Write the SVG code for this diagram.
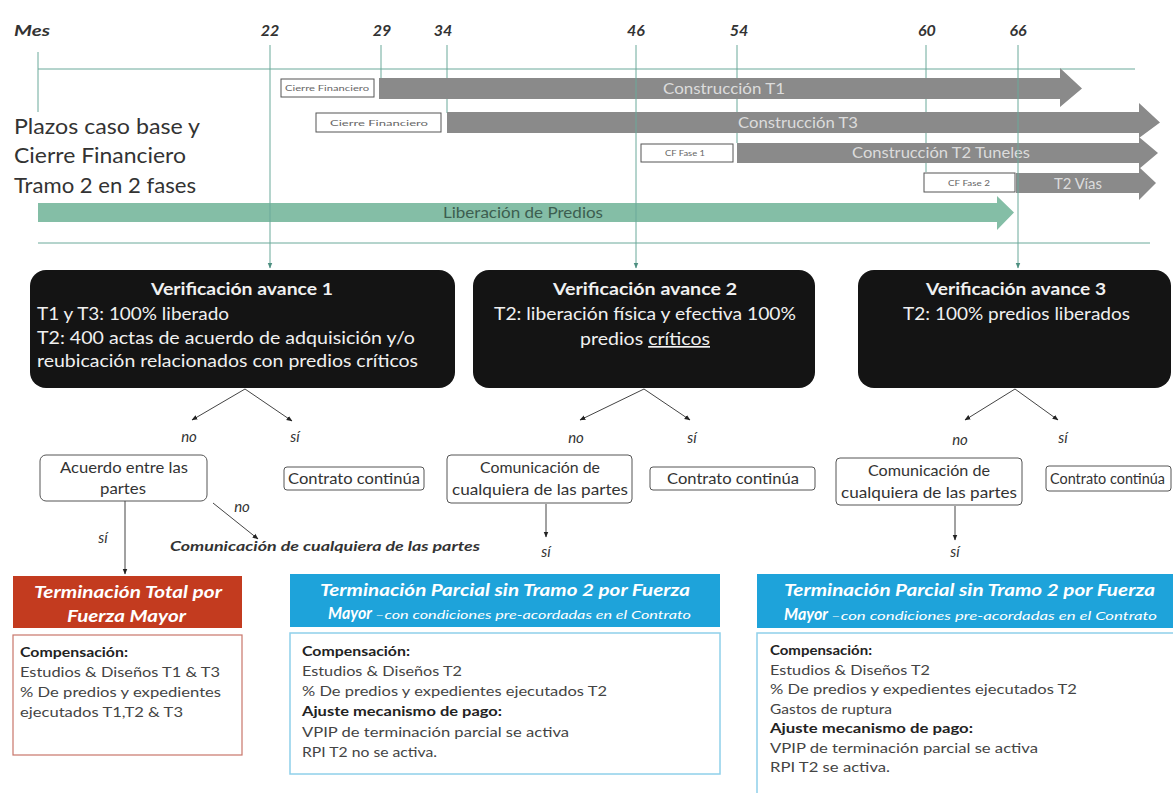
<svg xmlns="http://www.w3.org/2000/svg" width="1173" height="793" viewBox="0 0 1173 793">
<defs>
<style>
text{font-family:Lato,"Liberation Sans",sans-serif;}
.month{font-size:16px;font-weight:bold;font-style:italic;fill:#333;}
.tl{stroke:#6aa99a;stroke-width:1;fill:none;}
.bar{fill:#8a8a8a;}
.bartxt{font-size:15px;fill:#dcdcdc;}
.cf{fill:#fff;stroke:#555;stroke-width:1;}
.cftxt{font-size:8px;fill:#666;}
.plazo{font-size:21px;fill:#333;}
.verif{fill:#141414;}
.vt{font-size:17px;fill:#f0f0f0;}
.vb{font-weight:bold;}
.dec{fill:#fff;stroke:#555;stroke-width:1;}
.dt{font-size:16px;fill:#333;}
.lbl{font-size:15px;font-style:italic;fill:#333;text-anchor:middle;}
.conn{stroke:#444;stroke-width:1;fill:none;marker-end:url(#ah);}
.hd{font-size:17px;font-weight:bold;font-style:italic;fill:#fff;}
.sm{font-size:10.5px;font-weight:normal;}
.bt{font-size:14px;fill:#444;}
.bb{font-weight:bold;fill:#222;}
</style>
<marker id="ah" viewBox="0 0 10 10" refX="9" refY="5" markerWidth="6" markerHeight="6" orient="auto"><path d="M0,1 L10,5 L0,9 z" fill="#222"/></marker>
<marker id="ahg" viewBox="0 0 10 10" refX="9" refY="5" markerWidth="6" markerHeight="6" orient="auto"><path d="M0,1 L10,5 L0,9 z" fill="#4d8f80"/></marker>
</defs>
<rect width="1173" height="793" fill="#fff"/>

<!-- month axis -->
<g id="timeline">
<text x="14" y="36" class="month" textLength="36" lengthAdjust="spacingAndGlyphs">Mes</text>
<text x="270" y="36" class="month" text-anchor="middle">22</text>
<text x="382" y="36" class="month" text-anchor="middle">29</text>
<text x="443" y="36" class="month" text-anchor="middle">34</text>
<text x="636" y="36" class="month" text-anchor="middle">46</text>
<text x="739" y="36" class="month" text-anchor="middle">54</text>
<text x="927" y="36" class="month" text-anchor="middle">60</text>
<text x="1018" y="36" class="month" text-anchor="middle">66</text>
<line class="tl" x1="38" y1="69" x2="1135" y2="69"/>
<line class="tl" x1="38" y1="243" x2="1150" y2="243"/>
<line class="tl" x1="38" y1="52" x2="38" y2="112"/>
<line class="tl" x1="381" y1="45" x2="381" y2="78"/>
<line class="tl" x1="447" y1="45" x2="447" y2="113"/>
<line class="tl" x1="737" y1="45" x2="737" y2="143"/>
<line class="tl" x1="926" y1="45" x2="926" y2="172"/>
</g>

<!-- phase bars -->
<g id="bar-t1">
<polygon class="bar" points="379,78 1060,78 1060,68 1082,88.5 1060,107 1060,99 379,99"/>
<text x="663" y="94" class="bartxt" textLength="122" lengthAdjust="spacingAndGlyphs">Construcción T1</text>
</g>
<g id="bar-t3">
<polygon class="bar" points="447,112 1139,112 1139,103 1160,122.5 1139,138 1139,133 447,133"/>
<text x="738" y="128" class="bartxt" textLength="120" lengthAdjust="spacingAndGlyphs">Construcción T3</text>
</g>
<g id="bar-t2t">
<polygon class="bar" points="737,143 1139,143 1139,137 1158,153 1139,169 1139,163 737,163"/>
<text x="852" y="158" class="bartxt" textLength="178" lengthAdjust="spacingAndGlyphs">Construcción T2 Tuneles</text>
</g>
<g id="bar-t2v">
<polygon class="bar" points="1016,173 1139,173 1139,167 1156,183 1139,200 1139,193 1016,193"/>
<text x="1054" y="189" class="bartxt" textLength="48" lengthAdjust="spacingAndGlyphs">T2 Vías</text>
</g>
<g id="bar-predios">
<polygon fill="#84bea6" points="38,203 997,203 997,196 1014,212.5 997,230 997,222 38,222"/>
<text x="443" y="218" class="bartxt" style="fill:#3d5e50" textLength="160" lengthAdjust="spacingAndGlyphs">Liberación de Predios</text>
</g>
<g id="cf-1"><rect class="cf" x="281" y="79" width="93" height="18"/><text x="285" y="91" class="cftxt" textLength="84" lengthAdjust="spacingAndGlyphs">Cierre Financiero</text></g>
<g id="cf-2"><rect class="cf" x="316" y="113" width="125" height="19"/><text x="330" y="125.5" class="cftxt" textLength="98" lengthAdjust="spacingAndGlyphs">Cierre Financiero</text></g>
<g id="cf-f1"><rect class="cf" x="641" y="144" width="92" height="18"/><text x="665" y="156" class="cftxt" textLength="40" lengthAdjust="spacingAndGlyphs">CF Fase 1</text></g>
<g id="cf-f2"><rect class="cf" x="924" y="173" width="91" height="19"/><text x="948" y="185.5" class="cftxt" textLength="42" lengthAdjust="spacingAndGlyphs">CF Fase 2</text></g>

<g id="titulo">
<text class="plazo" x="14" y="134" textLength="186" lengthAdjust="spacingAndGlyphs">Plazos caso base y</text>
<text class="plazo" x="14" y="163" textLength="172" lengthAdjust="spacingAndGlyphs">Cierre Financiero</text>
<text class="plazo" x="14" y="193" textLength="182" lengthAdjust="spacingAndGlyphs">Tramo 2 en 2 fases</text>
</g>

<!-- verification nodes -->
<g id="verif-1">
<rect class="verif" x="30" y="270" width="425" height="118" rx="16"/>
<text class="vt vb" x="151" y="295" textLength="182" lengthAdjust="spacingAndGlyphs">Verificación avance 1</text>
<text class="vt" x="37" y="320" textLength="192" lengthAdjust="spacingAndGlyphs">T1 y T3: 100% liberado</text>
<text class="vt" x="37" y="344" textLength="378" lengthAdjust="spacingAndGlyphs">T2: 400 actas de acuerdo de adquisición y/o</text>
<text class="vt" x="37" y="367" textLength="381" lengthAdjust="spacingAndGlyphs">reubicación relacionados con predios críticos</text>
</g>
<g id="verif-2">
<rect class="verif" x="473" y="270" width="342" height="118" rx="16"/>
<text class="vt vb" x="553" y="295" textLength="184" lengthAdjust="spacingAndGlyphs">Verificación avance 2</text>
<text class="vt" x="494" y="320" textLength="302" lengthAdjust="spacingAndGlyphs">T2: liberación física y efectiva 100%</text>
<text class="vt" x="580" y="345" textLength="130" lengthAdjust="spacingAndGlyphs">predios <tspan text-decoration="underline">críticos</tspan></text>
</g>
<g id="verif-3">
<rect class="verif" x="858" y="270" width="313" height="118" rx="16"/>
<text class="vt vb" x="926" y="295" textLength="180" lengthAdjust="spacingAndGlyphs">Verificación avance 3</text>
<text class="vt" x="903" y="320" textLength="227" lengthAdjust="spacingAndGlyphs">T2: 100% predios liberados</text>
</g>

<!-- decision nodes -->
<g id="acuerdo">
<rect class="dec" x="40" y="455" width="167" height="46" rx="6"/>
<text class="dt" x="60" y="473" textLength="128" lengthAdjust="spacingAndGlyphs">Acuerdo entre las</text>
<text class="dt" x="100" y="494" textLength="46" lengthAdjust="spacingAndGlyphs">partes</text>
</g>
<g id="continua-1"><rect class="dec" x="284" y="467" width="140" height="23" rx="3"/><text class="dt" x="288" y="484" textLength="132" lengthAdjust="spacingAndGlyphs">Contrato continúa</text></g>
<g id="comunicacion-2">
<rect class="dec" x="447" y="455" width="185" height="48" rx="4"/>
<text class="dt" x="480" y="473" textLength="120" lengthAdjust="spacingAndGlyphs">Comunicación de</text>
<text class="dt" x="452" y="495" textLength="176" lengthAdjust="spacingAndGlyphs">cualquiera de las partes</text>
</g>
<g id="continua-2"><rect class="dec" x="650" y="467" width="165" height="23" rx="3"/><text class="dt" x="667" y="484" textLength="132" lengthAdjust="spacingAndGlyphs">Contrato continúa</text></g>
<g id="comunicacion-3">
<rect class="dec" x="836" y="458" width="186" height="47" rx="4"/>
<text class="dt" x="868" y="476" textLength="122" lengthAdjust="spacingAndGlyphs">Comunicación de</text>
<text class="dt" x="841" y="498" textLength="176" lengthAdjust="spacingAndGlyphs">cualquiera de las partes</text>
</g>
<g id="continua-3"><rect class="dec" x="1046" y="466" width="125" height="25" rx="3"/><text class="dt" x="1050" y="484" style="font-size:14.5px" textLength="115" lengthAdjust="spacingAndGlyphs">Contrato continúa</text></g>
<g id="comunicacion-1">
<text x="170" y="551" style="font-size:14px;font-style:italic;font-weight:bold;fill:#333" textLength="310" lengthAdjust="spacingAndGlyphs">Comunicación de cualquiera de las partes</text>
</g>

<!-- connectors -->
<g id="connectors">
<line x1="270" y1="45" x2="270" y2="268" stroke="#6aa99a" marker-end="url(#ahg)"/>
<line x1="636" y1="45" x2="636" y2="268" stroke="#6aa99a" marker-end="url(#ahg)"/>
<line x1="1018" y1="45" x2="1018" y2="268" stroke="#6aa99a" marker-end="url(#ahg)"/>
<line class="conn" x1="245" y1="389" x2="192" y2="420"/>
<line class="conn" x1="245" y1="389" x2="292" y2="421"/>
<line class="conn" x1="644" y1="389" x2="580" y2="420"/>
<line class="conn" x1="644" y1="389" x2="690" y2="420"/>
<line class="conn" x1="1015" y1="389" x2="965" y2="420"/>
<line class="conn" x1="1015" y1="389" x2="1058" y2="420"/>
<line class="conn" x1="125" y1="501" x2="125" y2="574"/>
<line class="conn" x1="213" y1="503" x2="258" y2="539"/>
<line class="conn" x1="546" y1="504" x2="546" y2="537"/>
<line class="conn" x1="955" y1="506" x2="955" y2="540"/>
<text class="lbl" x="189" y="442">no</text>
<text class="lbl" x="295" y="442">sí</text>
<text class="lbl" x="576" y="443">no</text>
<text class="lbl" x="692" y="443">sí</text>
<text class="lbl" x="960" y="445">no</text>
<text class="lbl" x="1063" y="443">sí</text>
<text class="lbl" x="103" y="543">sí</text>
<text class="lbl" x="242" y="512">no</text>
<text class="lbl" x="546" y="557">sí</text>
<text class="lbl" x="955" y="557">sí</text>
</g>

<!-- outcomes -->
<g id="total">
<rect x="13" y="576" width="229" height="52" fill="#c33b1f"/>
<text class="hd" x="34" y="598" textLength="188" lengthAdjust="spacingAndGlyphs">Terminación  Total por</text>
<text class="hd" x="67" y="622" textLength="119" lengthAdjust="spacingAndGlyphs">Fuerza Mayor</text>
<rect x="13" y="635" width="229" height="120" fill="#fff" stroke="#c8766a" stroke-width="1.2"/>
<text class="bt bb" x="20" y="657" textLength="108" lengthAdjust="spacingAndGlyphs">Compensación:</text>
<text class="bt" x="20" y="677" textLength="200" lengthAdjust="spacingAndGlyphs">Estudios &amp; Diseños T1 &amp; T3</text>
<text class="bt" x="20" y="697" textLength="201" lengthAdjust="spacingAndGlyphs">% De predios y expedientes</text>
<text class="bt" x="20" y="717" textLength="163" lengthAdjust="spacingAndGlyphs">ejecutados T1,T2 &amp; T3</text>
</g>
<g id="parcial-2">
<rect x="290" y="574" width="430" height="53" fill="#1ea3da"/>
<text class="hd" x="320" y="596" textLength="370" lengthAdjust="spacingAndGlyphs">Terminación  Parcial sin Tramo 2 por Fuerza</text>
<text class="hd" x="328" y="619" textLength="44" lengthAdjust="spacingAndGlyphs">Mayor</text>
<text class="hd sm" x="375" y="619" textLength="316" lengthAdjust="spacingAndGlyphs">–con condiciones pre-acordadas en el Contrato</text>
<rect x="290" y="633" width="430" height="141" fill="#fff" stroke="#8fd0ea" stroke-width="1.5"/>
<text class="bt bb" x="302" y="656" textLength="108" lengthAdjust="spacingAndGlyphs">Compensación:</text>
<text class="bt" x="302" y="676" textLength="160" lengthAdjust="spacingAndGlyphs">Estudios &amp; Diseños T2</text>
<text class="bt" x="302" y="696" textLength="305" lengthAdjust="spacingAndGlyphs">% De predios y expedientes ejecutados T2</text>
<text class="bt bb" x="302" y="716" textLength="200" lengthAdjust="spacingAndGlyphs">Ajuste mecanismo de pago:</text>
<text class="bt" x="302" y="737" textLength="267" lengthAdjust="spacingAndGlyphs">VPIP de terminación parcial se activa</text>
<text class="bt" x="302" y="757" textLength="135" lengthAdjust="spacingAndGlyphs">RPI T2 no se activa.</text>
</g>
<g id="parcial-3">
<rect x="757" y="574" width="416" height="54" fill="#1ea3da"/>
<text class="hd" x="784" y="596" textLength="371" lengthAdjust="spacingAndGlyphs">Terminación  Parcial sin Tramo 2 por Fuerza</text>
<text class="hd" x="784" y="620" textLength="44" lengthAdjust="spacingAndGlyphs">Mayor</text>
<text class="hd sm" x="831" y="620" textLength="326" lengthAdjust="spacingAndGlyphs">–con condiciones pre-acordadas en el Contrato</text>
<rect x="757" y="633" width="420" height="165" fill="#fff" stroke="#8fd0ea" stroke-width="1.5"/>
<text class="bt bb" x="770" y="655" textLength="102" lengthAdjust="spacingAndGlyphs">Compensación:</text>
<text class="bt" x="770" y="675" textLength="160" lengthAdjust="spacingAndGlyphs">Estudios &amp; Diseños T2</text>
<text class="bt" x="770" y="694" textLength="307" lengthAdjust="spacingAndGlyphs">% De predios y expedientes ejecutados T2</text>
<text class="bt" x="770" y="714" textLength="122" lengthAdjust="spacingAndGlyphs">Gastos de ruptura</text>
<text class="bt bb" x="770" y="733" textLength="203" lengthAdjust="spacingAndGlyphs">Ajuste mecanismo de pago:</text>
<text class="bt" x="770" y="753" textLength="268" lengthAdjust="spacingAndGlyphs">VPIP de terminación parcial se activa</text>
<text class="bt" x="770" y="772" textLength="120" lengthAdjust="spacingAndGlyphs">RPI T2 se activa.</text>
</g>
</svg>
